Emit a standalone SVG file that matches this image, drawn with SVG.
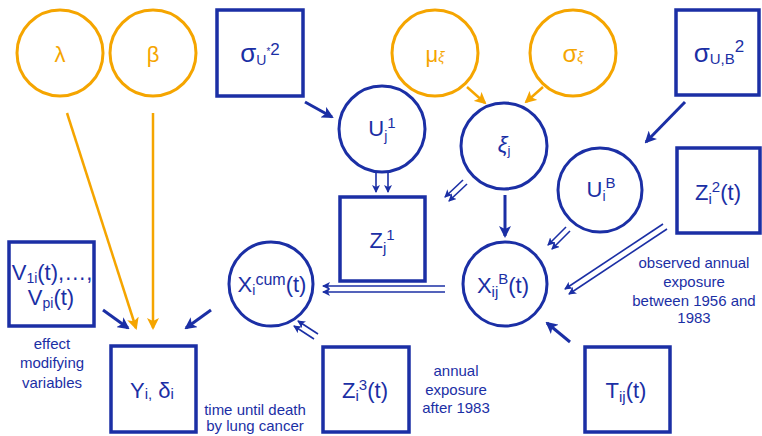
<svg xmlns="http://www.w3.org/2000/svg" width="762" height="436" viewBox="0 0 762 436">
<defs>
<style>
.bc{fill:none;stroke:#1b2fa5;stroke-width:3}
.oc{fill:none;stroke:#f5a500;stroke-width:3}
.bx{fill:none;stroke:#1b2fa5;stroke-width:3.5}
.bl{fill:none;stroke:#1b2fa5;stroke-width:3}
.ol{fill:none;stroke:#f5a500;stroke-width:2.5}
.dl{fill:none;stroke:#1b2fa5;stroke-width:1.6}
text{font-family:"Liberation Sans",Arial,sans-serif;text-anchor:middle}
.t{fill:#1b2fa5;font-size:22px}
.o{fill:#f5a500;font-size:22px}
.lb{fill:#1b2fa5;font-size:15px}
</style>
<marker id="ab" viewBox="0 0 12 12" refX="10" refY="6" markerWidth="12" markerHeight="12" markerUnits="userSpaceOnUse" orient="auto"><path d="M0,0 L12,6 L0,12 L3,6 z" fill="#1b2fa5"/></marker>
<marker id="ao" viewBox="0 0 12 12" refX="10" refY="6" markerWidth="12" markerHeight="12" markerUnits="userSpaceOnUse" orient="auto"><path d="M0,0 L12,6 L0,12 L3,6 z" fill="#f5a500"/></marker>
<marker id="ad" viewBox="0 0 8 8" refX="7" refY="4" markerWidth="8" markerHeight="8" markerUnits="userSpaceOnUse" orient="auto"><path d="M0,0 L8,4 L0,8 L2,4 z" fill="#1b2fa5"/></marker>
</defs>

<g id="connectors">
<line class="ol" x1="67" y1="113" x2="136" y2="328" marker-end="url(#ao)"/>
<line class="ol" x1="153" y1="113" x2="153" y2="328" marker-end="url(#ao)"/>
<line class="bl" x1="305" y1="102" x2="332" y2="117" marker-end="url(#ab)"/>
<line class="ol" x1="467" y1="87" x2="485" y2="103" marker-end="url(#ao)"/>
<line class="ol" x1="543" y1="87" x2="526" y2="102" marker-end="url(#ao)"/>
<line class="bl" x1="685" y1="102" x2="646" y2="142" marker-end="url(#ab)"/>
<line class="bl" x1="505" y1="195" x2="505" y2="236" marker-end="url(#ab)"/>
<line class="bl" x1="103" y1="310" x2="128" y2="328" marker-end="url(#ab)"/>
<line class="bl" x1="211" y1="310" x2="186" y2="328" marker-end="url(#ab)"/>
<line class="bl" x1="570" y1="342" x2="547" y2="323" marker-end="url(#ab)"/>
<line class="dl" x1="376" y1="173" x2="376" y2="192" marker-end="url(#ad)"/>
<line class="dl" x1="388" y1="173" x2="388" y2="192" marker-end="url(#ad)"/>
<line class="dl" x1="467" y1="184" x2="449" y2="201" marker-end="url(#ad)"/>
<line class="dl" x1="463" y1="180" x2="445" y2="197" marker-end="url(#ad)"/>
<line class="dl" x1="570" y1="231" x2="552" y2="249" marker-end="url(#ad)"/>
<line class="dl" x1="566" y1="227" x2="548" y2="245" marker-end="url(#ad)"/>
<line class="dl" x1="667" y1="229" x2="569" y2="294" marker-end="url(#ad)"/>
<line class="dl" x1="663" y1="224" x2="565" y2="289" marker-end="url(#ad)"/>
<line class="dl" x1="445" y1="286" x2="323" y2="286" marker-end="url(#ad)"/>
<line class="dl" x1="445" y1="292" x2="323" y2="292" marker-end="url(#ad)"/>
<line class="dl" x1="318" y1="334" x2="298" y2="321" marker-end="url(#ad)"/>
<line class="dl" x1="314" y1="339" x2="294" y2="326" marker-end="url(#ad)"/>
</g>

<g id="lambda"><circle class="oc" cx="60" cy="53" r="43"/><text class="o" x="60" y="62">λ</text></g>
<g id="beta"><circle class="oc" cx="153" cy="53" r="43"/><text class="o" x="153" y="62">β</text></g>
<g id="sigmaUstar"><rect class="bx" x="217" y="10" width="86" height="86"/><text class="t" x="260" y="62"><tspan font-size="26">σ</tspan><tspan font-size="14" dy="3">U</tspan><tspan font-size="10" dy="-10">*</tspan><tspan font-size="17" dy="0">2</tspan></text></g>
<g id="muxi"><circle class="oc" cx="435" cy="53" r="43"/><text class="o" x="435" y="62"><tspan>μ</tspan><tspan font-size="14" font-style="italic">ξ</tspan></text></g>
<g id="sigmaxi"><circle class="oc" cx="573" cy="53" r="43"/><text class="o" x="573" y="62"><tspan font-size="24">σ</tspan><tspan font-size="14" font-style="italic">ξ</tspan></text></g>
<g id="sigmaUB"><rect class="bx" x="676" y="10" width="83" height="85"/><text class="t" x="719" y="62"><tspan font-size="26">σ</tspan><tspan font-size="15" dy="2">U,B</tspan><tspan font-size="17" dy="-12">2</tspan></text></g>
<g id="Uj1"><circle class="bc" cx="382" cy="129" r="43"/><text class="t" x="382" y="136" font-size="21">U<tspan font-size="14" dy="5">j</tspan><tspan font-size="15" dy="-13">1</tspan></text></g>
<g id="xij"><circle class="bc" cx="504" cy="146" r="43"/><text class="t" x="504" y="152" font-size="17" font-style="italic">ξ<tspan font-size="13" dy="3" font-style="normal">j</tspan></text></g>
<g id="UiB"><circle class="bc" cx="600" cy="190" r="42"/><text class="t" x="601" y="197" font-size="21">U<tspan font-size="14" dy="4">i</tspan><tspan font-size="15" dy="-13">B</tspan></text></g>
<g id="Zi2"><rect class="bx" x="677" y="148" width="83" height="85"/><text class="t" x="718" y="200">Z<tspan font-size="15" dy="4">i</tspan><tspan font-size="15" dy="-12">2</tspan><tspan dy="8">(t)</tspan></text></g>
<g id="Zj1"><rect class="bx" x="340" y="197" width="85" height="84"/><text class="t" x="382" y="248">Z<tspan font-size="15" dy="5">j</tspan><tspan font-size="15" dy="-13">1</tspan></text></g>
<g id="Xicum"><circle class="bc" cx="271" cy="284" r="42"/><text class="t" x="272" y="292">X<tspan font-size="14" dy="3">i</tspan><tspan font-size="16" dy="-10">cum</tspan><tspan dy="7">(t)</tspan></text></g>
<g id="XijB"><circle class="bc" cx="505" cy="284" r="42"/><text class="t" x="503" y="293">X<tspan font-size="15" dy="4">ij</tspan><tspan font-size="15" dy="-13">B</tspan><tspan dy="9">(t)</tspan></text></g>
<g id="V"><rect class="bx" x="9" y="242" width="85" height="84"/><text class="t" x="52" y="280" font-size="21">V<tspan font-size="14" dy="3">1i</tspan><tspan dy="-3">(t),…,</tspan></text><text class="t" x="51" y="305" font-size="21">V<tspan font-size="14" dy="3">pi</tspan><tspan dy="-3">(t)</tspan></text></g>
<g id="Y"><rect class="bx" x="111" y="346" width="85" height="86"/><text class="t" x="152" y="398">Y<tspan font-size="15" dy="1">i,</tspan><tspan dy="-1"> δ</tspan><tspan font-size="15" dy="1">i</tspan></text></g>
<g id="Zi3"><rect class="bx" x="323" y="347" width="86" height="85"/><text class="t" x="365" y="398">Z<tspan font-size="15" dy="3">i</tspan><tspan font-size="15" dy="-11">3</tspan><tspan dy="8">(t)</tspan></text></g>
<g id="Tij"><rect class="bx" x="585" y="347" width="85" height="85"/><text class="t" x="626" y="398">T<tspan font-size="15" dy="4">ij</tspan><tspan dy="-4">(t)</tspan></text></g>

<g id="labels">
<text class="lb" x="52" y="349">effect</text>
<text class="lb" x="52" y="368">modifying</text>
<text class="lb" x="52" y="388">variables</text>
<text class="lb" x="255" y="415">time until death</text>
<text class="lb" x="255" y="431">by lung cancer</text>
<text class="lb" x="456" y="376">annual</text>
<text class="lb" x="456" y="395">exposure</text>
<text class="lb" x="456" y="413">after 1983</text>
<text class="lb" x="694" y="268">observed annual</text>
<text class="lb" x="694" y="287">exposure</text>
<text class="lb" x="694" y="306">between 1956 and</text>
<text class="lb" x="694" y="323">1983</text>
</g>
</svg>
